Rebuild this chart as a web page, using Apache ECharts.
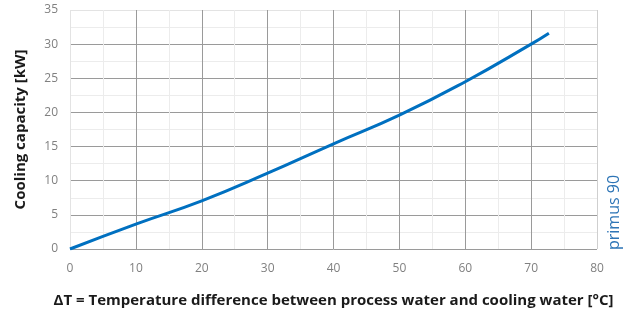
<!DOCTYPE html>
<html>
<head>
<meta charset="utf-8">
<script src="https://cdn.jsdelivr.net/npm/echarts@6/dist/echarts.min.js"></script>
<style>
  html, body { margin: 0; padding: 0; background: #fff; }
  #chart { width: 628px; height: 316px; }
</style>
</head>
<body>
<div id="chart"></div>
<script>
// curve (deltaT in °C, capacity in kW)
const deltaT = [0, 10, 20, 30, 40, 50, 60, 70, 72.7]
const capacity = [0, 3.65, 7.05, 11.1, 15.4, 19.6, 24.5, 30, 31.6]
const seriesName = 'primus 90'

const dark = '#9a9a9a'
const light = '#e3e3e3'

const chart = echarts.init(document.getElementById('chart'))
chart.setOption({
  animation: false,
  grid: {
    left: 70,
    right: 31,
    top: 10,
    bottom: 67
  },
  xAxis: {
    type: 'value',
    min: 0,
    max: 80,
    interval: 10,
    name: 'ΔT = Temperature difference between process water and cooling water [°C]',
    nameLocation: 'middle',
    nameGap: 44,
    nameTextStyle: {
      color: '#1a1a1a',
      fontFamily: 'Open Sans',
      fontWeight: 'bold',
      fontSize: 15
    },
    axisLine: { show: false },
    axisTick: { show: false },
    axisLabel: {
      color: '#808080',
      fontFamily: 'Open Sans',
      fontSize: 12,
      margin: 14
    },
    splitLine: {
      lineStyle: {
        color: [light, dark, dark, dark, dark, dark, dark, dark, '#cfcfcf'],
        width: 1
      }
    },
    minorTick: { show: false, splitNumber: 2 },
    minorSplitLine: { show: true, lineStyle: { color: '#ececec' } }
  },
  yAxis: {
    type: 'value',
    min: 0,
    max: 35,
    interval: 5,
    name: 'Cooling capacity [kW]',
    nameLocation: 'middle',
    nameGap: 42,
    nameTextStyle: {
      color: '#1a1a1a',
      fontFamily: 'Open Sans',
      fontWeight: 'bold',
      fontSize: 15
    },
    axisLine: { show: false },
    axisTick: { show: false },
    axisLabel: {
      color: '#808080',
      fontFamily: 'Open Sans',
      fontSize: 12,
      margin: 12
    },
    splitLine: {
      lineStyle: {
        color: [dark, dark, dark, dark, dark, dark, dark, light]
      }
    },
    minorTick: { show: false, splitNumber: 2 },
    minorSplitLine: { show: true, lineStyle: { color: '#ececec' } }
  },
  graphic: [
    {
      type: 'text',
      left: 606,
      bottom: 66,
      rotation: Math.PI / 2,
      style: {
        text: seriesName,
        fill: '#2e75b6',
        fontFamily: 'Open Sans',
        fontSize: 16
      }
    }
  ],
  series: [
    {
      name: seriesName,
      type: 'line',
      smooth: true,
      showSymbol: false,
      lineStyle: { color: '#0070c0', width: 3 },
      data: deltaT.map((x, i) => [x, capacity[i]])
    }
  ]
})
</script>
</body>
</html>
